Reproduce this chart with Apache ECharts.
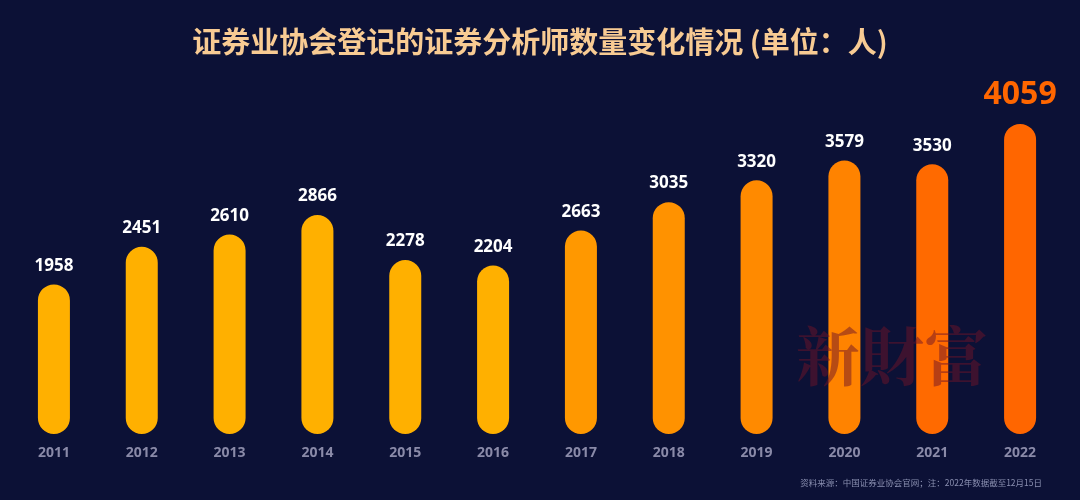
<!DOCTYPE html>
<html><head><meta charset="utf-8">
<script src="https://cdn.jsdelivr.net/npm/echarts@6/dist/echarts.min.js"></script>
<style>html,body{margin:0;padding:0;background:#0c1136;}#c{width:1080px;height:500px;}</style>
</head><body><div id="c"></div>
<script>
const years = ['2011','2012','2013','2014','2015','2016','2017','2018','2019','2020','2021','2022'];
const analysts = [1958,2451,2610,2866,2278,2204,2663,3035,3320,3579,3530,4059];
const barColors = ['#FFB000','#FFB000','#FFB000','#FFB000','#FFB000','#FFB000','#FF9800','#FF9200','#FF8A00','#FF8300','#FF6A00','#FF6600'];
const titleText = '证券业协会登记的证券分析师数量变化情况 (单位：人)';
const sourceText = '资料来源：中国证券业协会官网；注：2022年数据截至12月15日';
const watermark = '新財富';

const chart = echarts.init(document.getElementById('c'));
const last = analysts.length - 1;
chart.setOption({
  backgroundColor: '#0c1136',
  title: {
    text: titleText, left: 'center', top: 22,
    textStyle: {color: '#F8CB93', fontSize: 29, fontWeight: 'bold', fontFamily: 'Noto Sans CJK SC'}
  },
  graphic: [
    {type: 'text', left: 796, top: 324, z: 10, style: {text: watermark, fill: 'rgba(110,20,40,0.5)', font: 'bold 64px "Noto Serif CJK TC", "Noto Sans CJK TC", serif'}},
    {type: 'text', right: 38, top: 479, style: {text: sourceText, fill: '#8a8fb0', font: '8.5px "Noto Sans CJK SC"'}}
  ],
  grid: {left: 10, right: 16, top: 52, bottom: 66},
  xAxis: {
    type: 'category', data: years,
    axisLine: {show: false}, axisTick: {show: false},
    axisLabel: {color: '#8a8aa8', fontSize: 14, fontWeight: 'bold', margin: 12, fontFamily: 'Noto Sans'}
  },
  yAxis: {type: 'value', min: 0, max: 5000, show: false, splitLine: {show: false}},
  series: [{
    type: 'bar', barWidth: 32,
    data: analysts.map((v, i) => ({
      value: v,
      itemStyle: {color: barColors[i], borderRadius: 16},
      label: i === last ? {fontSize: 32, color: '#FF6600', distance: 13} : {}
    })),
    label: {show: true, position: 'top', distance: 10, color: '#ffffff', fontSize: 17, fontWeight: 'bold', fontFamily: 'Noto Sans'}
  }]
});
</script></body></html>
